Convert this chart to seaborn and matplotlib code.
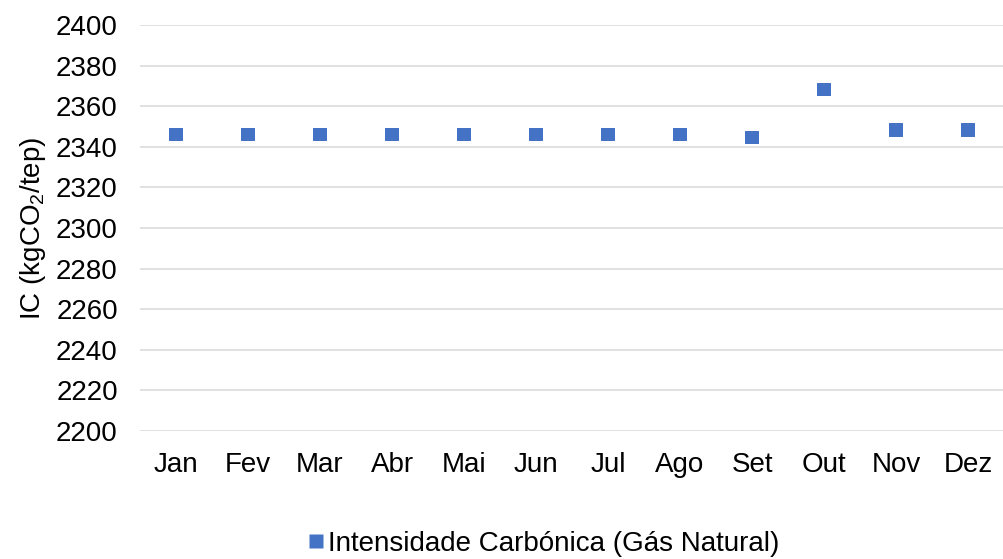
import matplotlib
matplotlib.use("Agg")
import matplotlib.pyplot as plt
import seaborn as sns
import pandas as pd

months = ["Jan", "Fev", "Mar", "Abr", "Mai", "Jun", "Jul", "Ago", "Set", "Out", "Nov", "Dez"]
ic_values = [2346.2, 2346.2, 2346.2, 2346.2, 2346.2, 2346.2, 2346.2, 2346.2, 2344.7, 2368.4, 2348.2, 2348.2]
series_name = "Intensidade Carbónica (Gás Natural)"
y_ticks = [2200, 2220, 2240, 2260, 2280, 2300, 2320, 2340, 2360, 2380, 2400]

sns.set_style("white")
plt.rcParams['font.family'] = ['Liberation Sans', 'DejaVu Sans']
plt.rcParams['mathtext.fontset'] = 'custom'
plt.rcParams['mathtext.rm'] = 'Liberation Sans'
plt.rcParams['mathtext.it'] = 'Liberation Sans'

FS = 20

df = pd.DataFrame({"Mês": months, "IC": ic_values, "Série": series_name})

fig = plt.figure(figsize=(10.04, 5.59), dpi=100)
ax = fig.add_axes([0.1395, 0.229, 0.8605, 0.726])

sns.scatterplot(data=df, x="Mês", y="IC", hue="Série", palette=["#4472C4"],
                marker="s", s=95, edgecolor="none", ax=ax, zorder=3)

ax.set_ylim(2200, 2400)
ax.set_xlim(-0.5, 11.5)
ax.set_yticks(y_ticks)
ax.grid(axis="y", color="#D9D9D9", linewidth=1.1, zorder=0)
ax.set_axisbelow(True)
for sp in ax.spines.values():
    sp.set_visible(False)
ax.tick_params(axis="both", length=0, labelsize=FS, colors="black")
ax.tick_params(axis="x", pad=15)
ax.tick_params(axis="y", pad=16)
ax.set_xlabel("")
ax.set_ylabel("IC (kgCO$_2$/tep)", fontsize=FS, labelpad=6, color="black")

ax.legend_.remove()
handles, labels = ax.get_legend_handles_labels()
leg = fig.legend(handles, labels, loc="center", bbox_to_anchor=(0.54, 0.027),
                 frameon=False, fontsize=FS, handletextpad=0.0, markerscale=1.0,
                 handlelength=0.8, borderpad=0)
for t in leg.get_texts():
    t.set_color("black")

fig.savefig("out.png", dpi=100)
